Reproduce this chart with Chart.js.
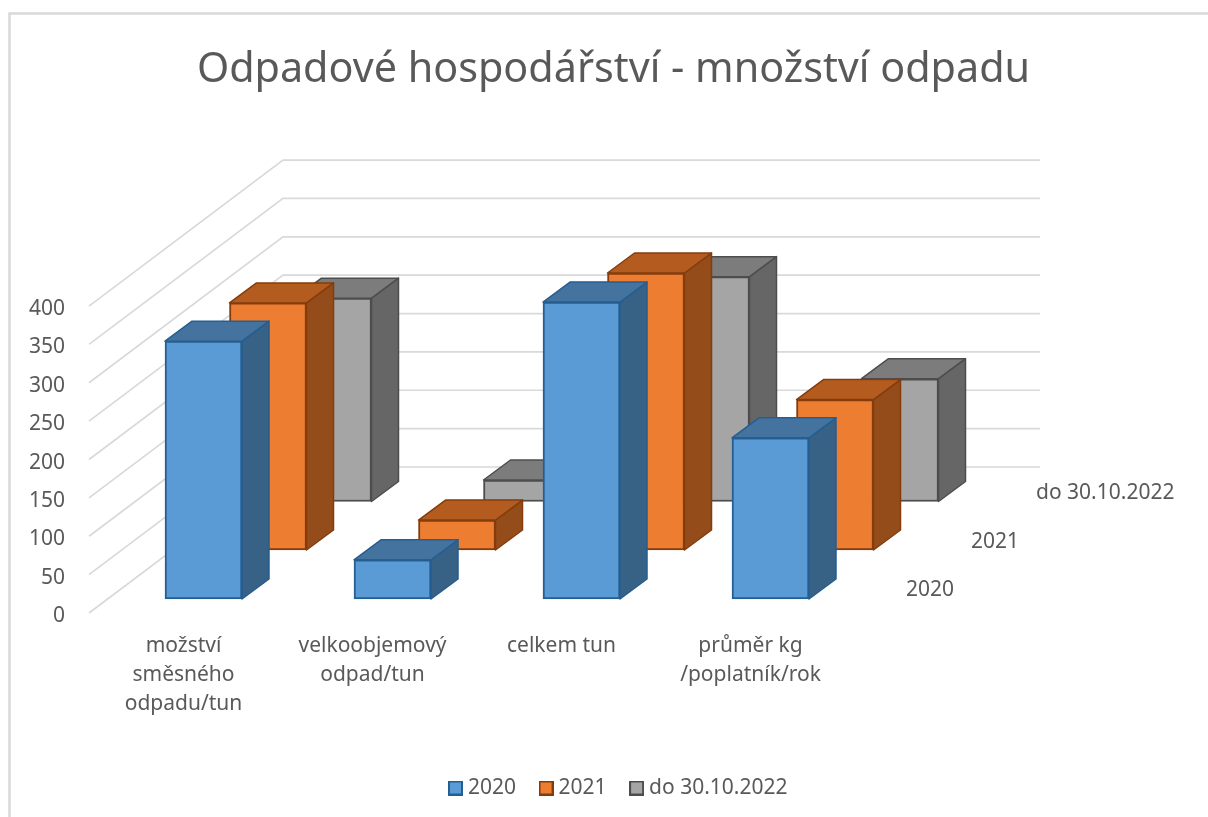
<!DOCTYPE html>
<html><head><meta charset="utf-8">
<style>html,body{margin:0;padding:0;background:#fff}#w{width:1208px;height:817px}canvas{display:block}</style>
<script src="https://cdn.jsdelivr.net/npm/chart.js@4"></script></head>
<body><div id="w"><canvas id="c" width="1208" height="817"></canvas></div>
<script>
const titleText = 'Odpadové hospodářství - množství odpadu';
const categories = [['možství','směsného','odpadu/tun'],['velkoobjemový','odpad/tun'],['celkem tun'],['průměr kg','/poplatník/rok']];
const seriesNames = ['2020','2021','do 30.10.2022'];
const values2020 = [336,51,387,210];
const values2021 = [322,39,361,196];
const values2022 = [265,28,293,160];
const yTicks = [0,50,100,150,200,250,300,350,400];

const FONT = '"Noto Sans"';
const TXT = '#595959';
const GRID = '#d9d9d9';
const palette = [
 {front:'#5B9BD5',edge:'#255E91',top:'#44739F',side:'#376286'},
 {front:'#ED7D31',edge:'#843C0C',top:'#B45C20',side:'#944D1A'},
 {front:'#A5A5A5',edge:'#4D4D4D',top:'#7C7C7C',side:'#666666'}
];
// projection of the depth axis, in px
const WALL = {dx:194, dy:-146};
const BAR_DEPTH = {dx:27, dy:-20};
const SERIES_SHIFT = [{dx:20,dy:-14},{dx:84.5,dy:-63},{dx:149.5,dy:-111.5}];
const SERIES_LABEL = [{dx:61,dy:-23},{dx:126,dy:-71},{dx:191,dy:-120}];

function swatch(p){
  const c=document.createElement('canvas');c.width=15;c.height=15;
  const x=c.getContext('2d');x.fillStyle=p.front;x.fillRect(0,0,15,15);
  x.strokeStyle=p.edge;x.lineWidth=2;x.strokeRect(1,1,13,13);return c;
}
function poly(ctx,pts,fill,edge){
  ctx.beginPath();pts.forEach((p,i)=>i?ctx.lineTo(p[0],p[1]):ctx.moveTo(p[0],p[1]));ctx.closePath();
  ctx.fillStyle=fill;ctx.fill();ctx.strokeStyle=edge;ctx.lineWidth=1.5;ctx.lineJoin='round';ctx.stroke();
}
const scene3d = {
  id:'scene3d',
  afterLayout(chart){
    const lg=chart.legend;lg.left+=7;lg.right+=7;lg.top+=1;lg.bottom+=1;
  },
  beforeDraw(chart){
    chart.scales.y.getLabelItems().forEach(it=>{it.textOffset+=3;});
    const ctx=chart.ctx;ctx.save();ctx.strokeStyle=GRID;ctx.lineWidth=2.5;
    ctx.beginPath();ctx.moveTo(9.5,817);ctx.lineTo(9.5,13.5);ctx.lineTo(1208,13.5);ctx.stroke();ctx.restore();
  },
  beforeDatasetsDraw(chart){
    const ctx=chart.ctx,a=chart.chartArea,y=chart.scales.y;
    ctx.save();ctx.strokeStyle=GRID;ctx.lineWidth=1.7;
    y.ticks.forEach(t=>{
      const py=y.getPixelForValue(t.value);
      ctx.beginPath();ctx.moveTo(a.left,py);ctx.lineTo(a.left+WALL.dx,py+WALL.dy);ctx.lineTo(a.right+WALL.dx+1,py+WALL.dy);ctx.stroke();
    });
    ctx.restore();
    // series names along the depth axis
    ctx.save();ctx.fillStyle=TXT;ctx.font='21px '+FONT;ctx.textBaseline='middle';ctx.textAlign='left';
    chart.scales.z.getLabels().forEach((n,i)=>ctx.fillText(n,a.right+SERIES_LABEL[i].dx,a.bottom+SERIES_LABEL[i].dy));
    ctx.restore();
  },
  beforeDatasetDraw(chart,args){
    const s=SERIES_SHIFT[args.index];chart.ctx.save();chart.ctx.translate(s.dx,s.dy);
  },
  afterDatasetDraw(chart,args){
    const ctx=chart.ctx,p=palette[args.index],d=BAR_DEPTH;
    args.meta.data.forEach(b=>{
      const {x,y,base,width}=b.getProps(['x','y','base','width'],true);
      const l=x-width/2,r=x+width/2;
      poly(ctx,[[r,y],[r+d.dx,y+d.dy],[r+d.dx,base+d.dy],[r,base]],p.side,p.edge);
      poly(ctx,[[l,y],[l+d.dx,y+d.dy],[r+d.dx,y+d.dy],[r,y]],p.top,p.edge);
    });
    ctx.restore();
  }
};
const seriesValues=[values2020,values2021,values2022];
new Chart(document.getElementById('c'),{
  type:'bar',
  data:{labels:categories,datasets:seriesNames.map((n,i)=>({
    label:n,data:seriesValues[i],backgroundColor:palette[i].front,borderColor:palette[i].edge,
    borderWidth:2,borderSkipped:false,barThickness:77,grouped:false,clip:false
  }))},
  plugins:[scene3d],
  options:{
    responsive:false,animation:false,
    layout:{padding:{left:19,right:0,top:0,bottom:9.5}},
    plugins:{
      tooltip:{enabled:false},
      title:{display:true,text:titleText,color:TXT,font:{family:FONT,size:41.3,weight:'normal',lineHeight:1.2},padding:{top:45,bottom:211.5}},
      legend:{position:'bottom',labels:{
        color:TXT,font:{family:FONT,size:21},boxWidth:4,usePointStyle:true,padding:28,
        generateLabels(chart){return chart.data.datasets.map((d,i)=>({text:d.label,fontColor:TXT,pointStyle:swatch(palette[i]),datasetIndex:i,lineWidth:0}));}
      }}
    },
    scales:{
      x:{type:'category',position:'bottom',grid:{display:false},border:{display:false},
        ticks:{color:TXT,font:{family:FONT,size:21,lineHeight:1.38},padding:11,autoSkip:false,maxRotation:0,minRotation:0},
        afterFit(s){s.height=135.5;}},
      y:{type:'linear',position:'left',min:0,max:400,grid:{display:false},border:{display:false},
        afterBuildTicks(s){s.ticks=yTicks.map(v=>({value:v}));},
        ticks:{color:TXT,font:{family:FONT,size:21},padding:16},
        afterFit(s){s.width=70;}},
      z:{type:'category',position:'right',labels:seriesNames,grid:{display:false},border:{display:false},
        ticks:{display:false},afterFit(s){s.width=363;}}
    }
  }
});
</script></body></html>
